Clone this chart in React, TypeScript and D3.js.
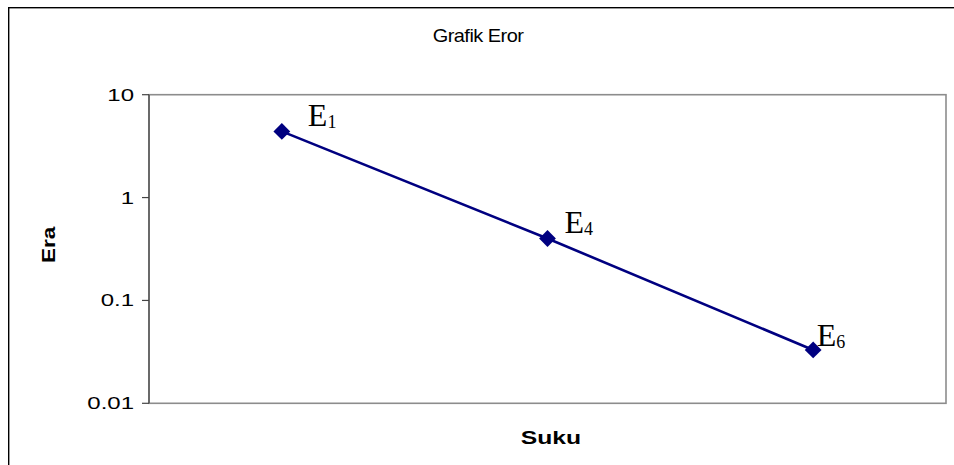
import React from "react";
import * as d3 from "d3";

// Error terms plotted on a log axis
const categories = ["E1", "E4", "E6"];
const labelBase = ["E", "E", "E"];
const labelSub = ["1", "4", "6"];
const errorValues = [4.4, 0.4, 0.033];
const yTickValues = [0.01, 0.1, 1, 10];
const yTickLabels = ["0.01", "0.1", "1", "10"];

const chartTitle = "Grafik Eror";
const xTitle = "Suku";
const yTitle = "Era";

const W = 954;
const H = 465;
const plot = { left: 149, right: 946, top: 94.7, bottom: 403.3 };

// Hand-placed label offsets (E left edge / baseline relative to the marker)
const labelOffsets: [number, number][] = [
  [26, -5],
  [17, -6],
  [3.5, -4],
];

const sans = "'Liberation Sans', Arial, sans-serif";
const serif = "'Liberation Serif', 'Times New Roman', serif";

export default function App() {
  const x = d3.scaleBand<string>().domain(categories).range([plot.left, plot.right]);
  const y = d3.scaleLog().domain([0.01, 10]).range([plot.bottom, plot.top]);

  const pts = categories.map((c, i) => ({
    c,
    px: (x(c) as number) + x.bandwidth() / 2,
    py: y(errorValues[i]),
  }));

  const line = d3
    .line<{ px: number; py: number }>()
    .x((d) => d.px)
    .y((d) => d.py);

  const diamond = d3.symbol(d3.symbolDiamond2, 180)();

  return (
    <svg
      width={W}
      height={H}
      style={{ position: "absolute", left: 0, top: 0, background: "#fff" }}
    >
      {/* outer chart frame */}
      <rect x={8.7} y={7.7} width={W + 20} height={H + 20} fill="none" stroke="#000" strokeWidth={1.4} />

      {/* title */}
      <text
        transform={`translate(${478},${42}) scale(1.05,1)`}
        textAnchor="middle"
        fontFamily={sans}
        fontSize={19}
        letterSpacing={-0.5}
        fill="#000"
      >
        {chartTitle}
      </text>

      {/* plot area border */}
      <rect
        x={plot.left}
        y={plot.top}
        width={plot.right - plot.left}
        height={plot.bottom - plot.top}
        fill="none"
        stroke="#8c8c8c"
        strokeWidth={1.6}
      />
      <line x1={plot.left} x2={plot.left} y1={plot.top} y2={plot.bottom} stroke="#444" strokeWidth={1.2} />

      {/* y ticks */}
      {yTickValues.map((v, i) => (
        <g key={v}>
          <line x1={plot.left - 7} x2={plot.left} y1={y(v)} y2={y(v)} stroke="#444" strokeWidth={1.2} />
          <text
            transform={`translate(${134},${y(v) + 6}) scale(1.5,1)`}
            textAnchor="end"
            fontFamily={sans}
            fontSize={16}
            fill="#000"
          >
            {yTickLabels[i]}
          </text>
        </g>
      ))}

      {/* axis titles */}
      <text
        transform={`translate(${551},${444}) scale(1.3,1)`}
        textAnchor="middle"
        fontFamily={sans}
        fontWeight="bold"
        fontSize={19}
        fill="#000"
      >
        {xTitle}
      </text>
      <text
        transform={`translate(${55},${245}) rotate(-90) scale(1.25,1)`}
        textAnchor="middle"
        fontFamily={sans}
        fontWeight="bold"
        fontSize={18}
        fill="#000"
      >
        {yTitle}
      </text>

      {/* series */}
      <path d={line(pts) || ""} fill="none" stroke="#000080" strokeWidth={2.6} />
      {pts.map((p) => (
        <path key={p.c} d={diamond || ""} transform={`translate(${p.px},${p.py})`} fill="#000080" />
      ))}

      {/* point labels */}
      {pts.map((p, i) => (
        <text
          key={"l" + p.c}
          x={p.px + labelOffsets[i][0]}
          y={p.py + labelOffsets[i][1]}
          fontFamily={serif}
          fontSize={32}
          fill="#000"
        >
          {labelBase[i]}
          <tspan fontSize={18} dy={2}>
            {labelSub[i]}
          </tspan>
        </text>
      ))}
    </svg>
  );
}
